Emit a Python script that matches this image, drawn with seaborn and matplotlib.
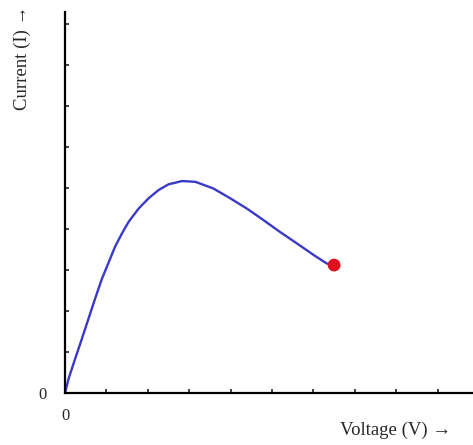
import matplotlib
matplotlib.use("Agg")
import matplotlib.pyplot as plt
import seaborn as sns
import pandas as pd

# I-V characteristic (arbitrary units)
voltage = [0.0, 0.09, 0.25, 0.41, 0.57, 0.73, 0.89, 1.06, 1.21, 1.38, 1.54, 1.78, 2.02, 2.26,
           2.50, 2.83, 3.15, 3.58, 3.99, 4.39, 4.79, 5.19, 5.60, 6.00, 6.32, 6.50]
current = [0.0, 0.36, 0.85, 1.33, 1.82, 2.31, 2.78, 3.20, 3.57, 3.90, 4.18, 4.50, 4.75, 4.95,
           5.09, 5.17, 5.15, 4.99, 4.75, 4.50, 4.22, 3.93, 3.65, 3.37, 3.16, 3.12]
end_voltage = [6.50]
end_current = [3.12]
x_ticks = list(range(0, 10))
y_ticks = list(range(0, 10))
x_tick_labels = ["0"] + [""] * 9
y_tick_labels = ["0"] + [""] * 9

sns.set_style("white")
plt.rcParams['font.family'] = ['Liberation Serif', 'DejaVu Serif']

fig = plt.figure(figsize=(4.73, 4.45), dpi=100)
ax = fig.add_axes([65/473, 1 - 393/445, 1 - 65/473, (393 - 12)/445])

df = pd.DataFrame({"V": voltage, "I": current})
sns.lineplot(data=df, x="V", y="I", ax=ax, color="#3a3ac8", linewidth=1.7, sort=False,
             solid_joinstyle="round", solid_capstyle="round")
sns.scatterplot(x=end_voltage, y=end_current, ax=ax, color="#e01020", s=85, edgecolor="none", zorder=5)

ax.set_xlim(0, 408/41.4)
ax.set_ylim(0, 381/41.0)
ax.set_xticks(x_ticks)
ax.set_xticklabels(x_tick_labels, fontsize=12)
ax.set_yticks(y_ticks)
ax.set_yticklabels(y_tick_labels, fontsize=12)
ax.tick_params(axis="both", direction="in", length=3, width=1.2, color="#222222",
               bottom=True, left=True)
ax.tick_params(axis="x", pad=11)
ax.tick_params(axis="y", pad=13)
ax.set_xlabel("")
ax.set_ylabel("")
for side in ["top", "right"]:
    ax.spines[side].set_visible(False)
for side in ["left", "bottom"]:
    ax.spines[side].set_color("black")
    ax.spines[side].set_linewidth(1.6)

fig.text(396/473, 1 - 430/445, "Voltage (V) \u2192", ha="center", va="center", fontsize=13.5)
fig.text(22/473, 1 - 58/445, "Current (I) \u2192", ha="center", va="center", rotation=90, fontsize=13.5)

fig.savefig("out.png", dpi=100)
